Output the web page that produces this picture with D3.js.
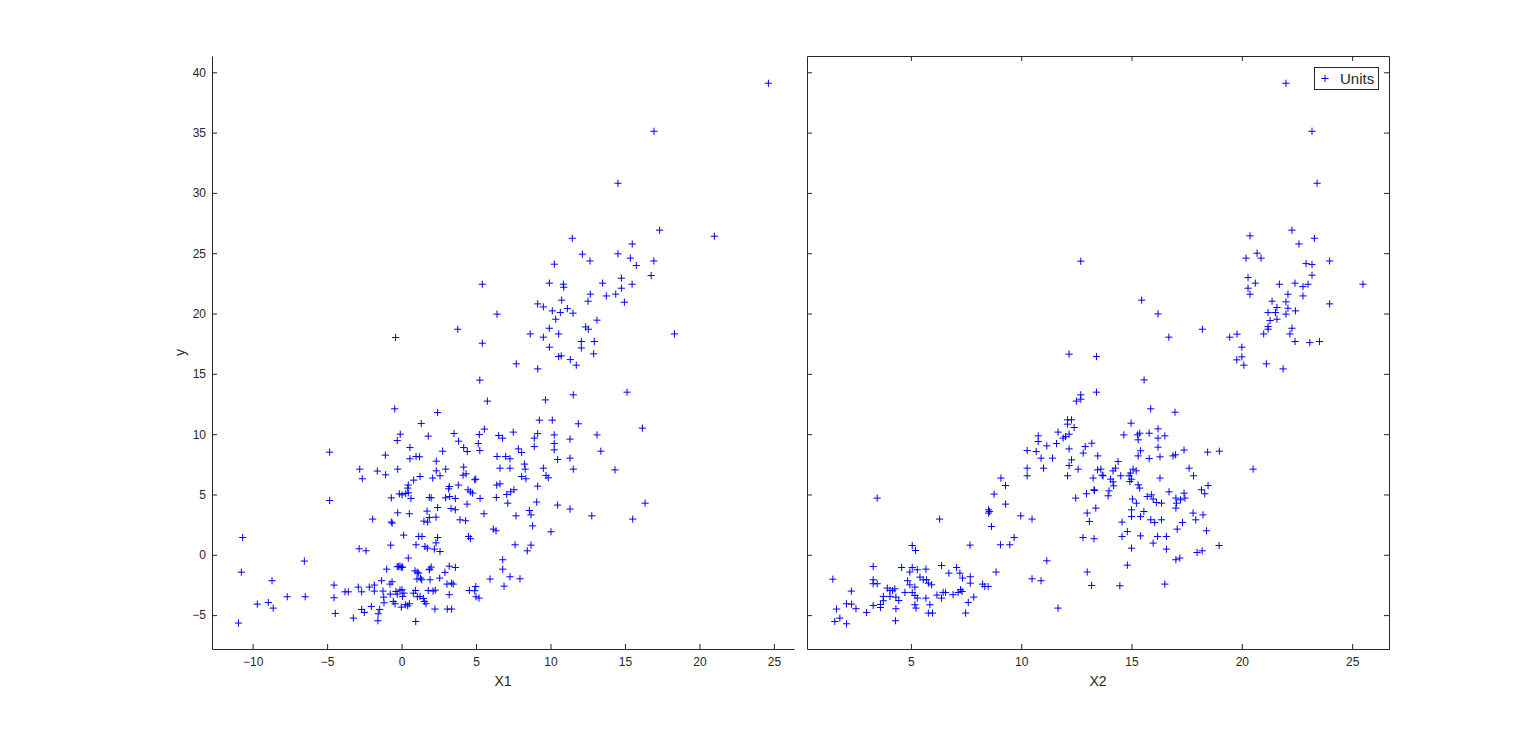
<!DOCTYPE html>
<html><head><meta charset="utf-8">
<script src="https://cdn.jsdelivr.net/npm/d3@7"></script>
<style>body{margin:0;background:#fff}svg{display:block}</style>
</head><body>
<svg id="chart" width="1536" height="744"></svg>
<script>
// ---- data ----
const seriesName = "Units";
const xLabelLeft = "X1";
const xLabelRight = "X2";
const yLabel = "y";
const xTicksLeft = [-10, -5, 0, 5, 10, 15, 20, 25];
const xTicksRight = [5, 10, 15, 20, 25];
const yTicks = [-5, 0, 5, 10, 15, 20, 25, 30, 35, 40];
const xDomainLeft = [-12.73, 26.35];
const xDomainRight = [0.29, 26.67];
const yDomain = [-7.81, 41.35];

// left panel: [X1, y]
const leftPoints = [
[-10.67,1.43],[-10.76,-1.44],[-10.95,-5.66],[-9.69,-4.09],[-8.95,-3.95],[-8.70,-2.15],[-8.62,-4.42],[-7.68,-3.48],[-6.53,-0.52],[-6.47,-3.48],[-4.83,4.5],[-4.54,-2.51],[-4.54,-3.56],[-4.45,-4.86],[-3.80,-3.07],[-3.58,-3.07],[-3.24,-5.25],[-2.85,0.50],[-2.39,0.33],[-2.64,6.30],[-2.91,-2.68],[-2.68,-3.07],[-2.68,-4.53],[-2.50,-4.78],[-2.17,-2.68],[-1.94,2.96],[-2.03,-4.28],[-1.83,-2.51],[-1.83,-3.01],[-1.57,-4.89],[-1.59,-5.47],[-1.47,-4.53],
[-1.34,-2.15],[-1.25,-3.01],[-1.20,-3.51],[-1.18,-3.98],[-1.00,-1.19],[-0.78,-2.43],[-0.76,-3.26],[-0.64,-2.24],[-0.73,0.8],[-0.69,2.71],[-0.63,2.63],[-0.69,4.72],[-0.56,-3.87],[-0.44,-4.06],[-0.38,-3.04],[-0.29,-3.26],[-0.11,-2.93],[-0.29,-0.99],[-0.11,-0.94],[-0.02,-1.05],[-0.26,3.48],[-0.15,5.05],[-0.02,-4.34],[0.03,-2.90],[0.16,-3.18],[0.07,-3.45],[0.25,-4.14],[0.41,-4.23],[0.52,-4.06],[0.79,-3.18],[0.94,-2.96],[1.06,-3.48],[1.24,-3.45],[1.46,-3.62],[1.86,-1.24],[1.91,-2.07],
[0.81,6.19],[1.24,6.49],[0.45,5.78],[0.41,5.53],[0.45,5.14],[0.28,5.08],[0.63,4.67],[0.03,4.97],[1.86,4.75],[1.99,4.72],[3.2,5.66],[3.16,5.47],[3.81,5.78],[2.96,4.72],[3.23,4.83],[3.61,4.67],[4.13,6.6],[4.33,6.71],[4.46,5.39],[4.62,5.22],[4.91,6.22],[4.98,6.27],[4.77,5.11],[5.27,4.67],[6.39,5.78],[6.36,4.75],[4.40,4.20],[3.32,3.84],[3.61,3.73],[2.42,3.92],[1.71,3.62],[1.50,2.79],[1.75,2.71],[1.86,3.09],[2.31,3.12],[0.52,3.40],[3.92,2.90],[4.30,2.82],[5.53,3.40],[6.16,2.13],[6.34,1.99],[4.50,1.52],[4.62,1.33],[2.42,1.43],[2.31,0.99],[1.15,1.52],[1.37,1.52],[0.97,0.83],[1.57,0.69],[1.73,0.55],[2.20,0.47],[2.58,0.27],[0.14,1.63],[0.45,-0.27],[-0.22,-0.97],[0.07,-1.02],[0.90,-1.33],[1.05,-1.44],[1.15,-1.52],[1.28,-1.93],[1.35,-2.07],[1.03,-2.01],[1.89,-1.19],[1.99,-1.02],[2.56,-1.93],[2.91,-1.46],[3.20,-0.94],[3.61,-1.05],[3.05,-2.43],[3.36,-2.35],[3.47,-2.43],[3.20,-3.31],[3.07,-4.50],[3.36,-4.50],[2.24,-4.50],[1.53,-3.87],[1.64,-4.06],[0.95,-5.53],[1.79,-2.96],[2.11,-3.01],[2.26,-2.93],[4.98,-2.63],[4.91,-2.98],[4.55,-2.96],[5.0,-3.48],[5.2,-3.59],[5.94,-2.01],
[5.42,22.43],[6.41,19.95],[-0.40,18.01],[3.77,18.70],[5.42,17.54],[5.25,14.48],[5.76,12.74],[-0.46,12.10],[2.42,11.79],[1.32,10.88],[5.56,10.42],[5.22,9.97],[6.52,9.89],[-0.09,10.00],[-0.29,9.47],[1.79,9.84],[3.52,10.05],[3.83,9.42],[5.15,9.22],[0.56,8.89],[4.17,8.89],[4.41,8.56],[-4.83,8.51],[2.76,8.59],[5.25,8.64],[-1.09,8.26],[0.56,7.96],[0.97,8.15],[1.21,8.12],[6.41,8.15],[2.33,7.76],[-2.81,7.10],[-1.63,6.94],[-0.26,7.10],[2.33,6.96],[2.58,6.55],[2.96,7.10],[4.17,7.27],[-1.07,6.63],[2.09,6.36],
[24.63,39.09],[16.95,35.11],[14.53,30.80],[17.33,26.91],[21.0,26.41],[11.46,26.24],[15.49,25.77],[14.53,24.95],[12.14,24.92],[12.65,24.36],[10.26,24.09],[15.36,24.59],[15.76,23.98],[16.94,24.36],
[16.76,23.15],[14.76,22.93],[14.76,22.10],[15.48,22.43],[13.50,22.52],[9.92,22.52],[10.86,22.43],[10.89,22.18],[12.67,21.61],[12.52,21.02],[13.75,21.46],[14.38,21.61],[14.96,20.94],[9.14,20.80],[9.52,20.55],[10.75,21.11],[11.13,20.41],[10.12,20.22],[10.66,20.08],[11.51,20.03],[10.35,19.53],[13.12,19.45],[18.32,18.31],[9.92,18.78],[12.36,18.89],[12.54,18.70],[8.64,18.31],[9.52,18.04],[10.55,18.31],[12.07,17.68],[12.07,17.15],[12.94,17.68],[12.90,16.66],[9.92,17.21],[10.55,16.43],[10.72,16.49],[11.33,16.18],[11.73,15.72],[7.70,15.83],[9.14,15.41],[15.14,13.48],[11.53,13.26],[9.66,12.84],[9.25,11.16],[10.12,11.16],[11.87,10.86],[16.17,10.50],[7.50,10.17],[6.78,9.67],[9.14,10.05],[8.91,9.67],[10.25,9.94],[11.31,9.59],[13.12,9.94],[10.25,9.22],[8.91,8.97],[10.25,8.70],[13.38,8.59],[7.84,8.78],[8.06,8.48],[6.99,8.15],[7.28,7.96],[10.48,7.90],[11.31,8.01],[6.61,7.18],[7.28,7.18],[8.25,7.52],[8.30,7.10],[9.52,7.18],[11.53,7.10],[14.33,7.04],[8.06,6.49],[8.35,6.30],[9.70,6.57],[9.85,6.38],
[6.61,5.88],[7.06,5.0],[7.33,5.22],[7.55,5.39],[7.13,4.28],[9.14,5.69],[9.07,4.37],[10.48,4.12],[11.31,3.79],[12.77,3.23],[16.35,4.28],[15.52,2.96],[8.58,3.67],[8.69,3.31],[7.68,3.23],[8.80,2.40],[10.03,1.91],[7.62,0.83],[8.69,0.80],[8.44,0.33],[6.79,-0.41],[6.79,-1.19],[7.28,-1.82],[7.95,-1.99],[6.88,-2.60]
];

// right panel: [X2, y]
const rightPoints = [
[12.70,24.34],[22.00,39.09],[23.18,35.11],[23.41,30.80],[20.37,26.44],[22.27,26.91],[22.59,25.77],[23.29,26.24],[20.19,24.59],[20.69,25.0],[20.87,24.59],[22.91,24.14],[23.18,24.06],[23.98,24.36],
[23.18,23.18],[20.28,22.98],[20.28,22.10],[20.61,22.52],[21.70,22.43],[22.41,22.52],[22.77,22.23],[23.0,22.43],[22.77,21.46],[25.49,22.43],[20.37,21.60],[22.09,21.60],[21.37,21.02],[22.0,20.97],[21.59,20.50],[22.09,20.44],[23.98,20.80],[21.19,20.08],[21.52,20.08],[22.43,20.22],[22.0,19.95],[21.59,19.53],[21.28,19.42],[21.19,18.92],[21.19,18.70],[22.27,18.78],[20.99,18.31],[22.18,18.31],[15.46,21.11],[16.20,19.97],[18.21,18.70],[19.45,18.04],[19.78,18.29],[16.69,18.04],[20.0,17.21],[20.0,16.41],[19.77,16.16],[20.09,15.72],[21.11,15.83],[21.87,15.41],[22.41,17.68],[23.08,17.59],[23.52,17.68],[13.41,16.43],[15.57,14.50],[13.41,13.48],[15.87,12.10],[16.97,11.82],[14.98,10.91],[14.65,9.94],[15.27,9.94],[15.37,10.08],[15.80,10.08],[16.20,10.44],[16.20,9.67],[16.51,9.86],[15.30,9.53],[13.20,9.25],[16.20,8.92],[15.41,8.62],[15.30,8.20],[15.80,7.98],[16.29,8.12],[16.88,8.20],[16.99,8.29],[17.38,8.68],[18.45,8.51],[18.98,8.59],[13.47,8.20],[20.51,7.10],[17.61,7.18],[17.81,6.55],[14.39,7.73],[14.27,7.18],[14.16,6.96],[13.61,7.10],[13.67,6.60],[15.07,7.10],[15.21,6.96],[14.95,6.77],[14.51,6.55],[14.89,6.55],[16.29,6.36],
[12.17,16.63],[12.70,13.26],[12.70,12.90],[12.50,12.74],[12.10,11.19],[12.28,11.19],[12.10,10.83],[12.40,10.55],[11.67,10.17],[12.17,10.0],[12.01,9.80],[11.90,9.67],[10.77,9.86],[10.77,9.39],[11.16,9.03],[11.60,9.22],[12.17,8.78],[12.90,8.97],[12.81,8.43],[10.27,8.64],[10.68,8.56],[10.90,8.01],[11.42,8.01],[12.28,7.87],[12.17,7.40],[10.27,7.18],[11.01,7.18],[12.58,7.10],[10.27,6.55],[9.08,6.36],[12.10,6.55],[13.26,6.36],[13.46,7.04],
[9.29,5.74],[8.77,5.03],[9.29,4.20],[8.52,3.73],[8.52,3.46],[8.56,3.59],[8.65,2.35],[9.68,1.43],[9.98,3.23],[10.49,2.96],[9.06,0.83],[9.48,0.83],[7.68,0.80],[6.30,2.96],[3.47,4.70],[5.06,0.77],[5.21,0.36],[11.16,-0.50],[8.86,-1.43],[10.49,-1.99],[10.90,-2.15],[11.67,-4.42],[12.47,4.70],[12.96,5.06],[13.30,5.39],[13.38,3.87],[12.99,3.46],[13.09,2.76],[12.80,1.43],[13.30,1.33],[12.99,-1.43],[13.19,-2.54],
[1.46,-2.02],[1.63,-4.50],[1.55,-5.53],[1.78,-5.25],[2.08,-5.72],[2.08,-4.06],[2.31,-4.09],[2.51,-4.47],[2.30,-3.01],[2.99,-4.78],[3.29,-0.97],[3.29,-2.07],[3.29,-2.40],[3.47,-2.40],[3.29,-4.20],[3.62,-4.12],[3.62,-4.37],[3.75,-3.45],[3.75,-3.81],[3.93,-2.76],[4.05,-2.96],[4.05,-3.45],[4.17,-2.98],[4.27,-2.82],[4.32,-3.51],[4.45,-3.79],[4.32,-4.47],[4.30,-5.47],[4.58,-1.05],[4.73,-3.12],[4.85,-2.15],[4.95,-1.43],[5.06,-1.05],[4.95,-2.49],[5.06,-3.12],[5.18,-2.68],[5.18,-3.37],[5.18,-4.14],[5.23,-4.42],[5.29,-3.59],[5.29,-1.24],[5.41,-1.85],[5.56,-2.07],[5.68,-1.19],[5.71,-2.07],[5.79,-2.35],[5.68,-3.59],[5.86,-4.14],[5.79,-4.83],[5.98,-4.83],[5.94,-2.49],[6.18,-3.34],[6.39,-3.59],[6.39,-0.89],[6.46,-3.12],[6.72,-1.52],[6.57,-3.12],[6.91,-3.31],[7.07,-1.05],[7.14,-3.12],[7.25,-2.90],[7.32,-3.04],[7.22,-1.52],[7.34,-1.93],[7.48,-4.83],[7.60,-3.95],[7.69,-2.35],[7.69,-1.82],[7.85,-3.51],[8.25,-2.43],[8.35,-2.63],[8.50,-2.63],
[13.32,5.33],[13.71,6.55],[14.05,6.27],[14.16,6.05],[14.19,5.72],[13.98,5.30],[13.94,4.89],[15.0,6.27],[15.30,5.80],[15.37,5.53],[14.92,6.07],
[15.04,4.62],[15.22,4.28],[15.0,3.73],[15.0,3.17],[15.41,3.17],[15.56,3.59],[15.71,4.83],[15.90,4.97],[15.98,4.62],[16.13,4.34],[16.36,4.28],[16.70,5.22],[17.01,4.70],[17.04,4.28],[17.22,4.56],[17.38,5.11],[17.42,4.70],[17.01,3.87],[17.07,2.13],[17.31,2.68],[17.79,3.46],[17.91,2.90],[18.24,3.31],[18.40,1.99],[18.17,5.39],[18.32,5.06],[18.47,5.74],[15.87,2.90],[16.05,2.68],[16.36,2.90],[14.57,2.71],[14.81,1.93],[14.57,1.52],[15.41,1.57],[15.98,0.97],[16.18,1.52],[16.58,1.52],[15.0,0.55],[16.58,0.47],[14.81,-0.86],[17.01,-0.41],[17.19,-0.27],[17.97,0.19],[18.20,0.33],[18.97,0.77],[14.47,-2.57],[16.51,-2.43]
];

// ---- drawing ----
const svg = d3.select("#chart");
const axisColor = "#262626";
const markerColor = "#0000ff";
const font = "'Liberation Sans', Arial, Helvetica, sans-serif";
const plotTop = 56, plotBottom = 649;
const leftPanel = {x0: 212, x1: 794};
const rightPanel = {x0: 807, x1: 1389};
const ARM = 3.6;

const yScale = d3.scaleLinear().domain(yDomain).range([plotBottom, plotTop]);
const xLeft = d3.scaleLinear().domain(xDomainLeft).range([leftPanel.x0, leftPanel.x1]);
const xRight = d3.scaleLinear().domain(xDomainRight).range([rightPanel.x0, rightPanel.x1]);

function styleAxis(g, showText) {
  g.select(".domain").attr("stroke", axisColor).attr("stroke-width", 1);
  g.selectAll(".tick line").attr("stroke", axisColor).attr("stroke-width", 1);
  g.selectAll(".tick text").attr("fill", axisColor).style("font-family", font).style("font-size", "12px");
  if (!showText) g.selectAll(".tick text").remove();
}

function plus(x, y) {
  return `M${x - ARM},${y}H${x + ARM}M${x},${y - ARM}V${y + ARM}`;
}

// Left panel (box off)
const gl = svg.append("g");
gl.append("g").attr("transform", `translate(0,${plotBottom})`)
  .call(d3.axisBottom(xLeft).tickValues(xTicksLeft).tickSizeInner(-5).tickSizeOuter(0).tickPadding(8).tickFormat(d3.format("d")))
  .call(g => styleAxis(g, true));
gl.append("g").attr("transform", `translate(${leftPanel.x0},0)`)
  .call(d3.axisLeft(yScale).tickValues(yTicks).tickSizeInner(-5).tickSizeOuter(0).tickPadding(6).tickFormat(d3.format("d")))
  .call(g => styleAxis(g, true));
gl.append("path")
  .attr("d", leftPoints.map(p => plus(xLeft(p[0]), yScale(p[1]))).join(""))
  .attr("fill", "none").attr("stroke", markerColor).attr("stroke-width", 1);

gl.append("text").attr("x", (leftPanel.x0 + leftPanel.x1) / 2).attr("y", 686)
  .attr("text-anchor", "middle").attr("fill", axisColor)
  .style("font-family", font).style("font-size", "14px").text(xLabelLeft);
gl.append("text").attr("transform", `translate(185,${(plotTop + plotBottom) / 2}) rotate(-90)`)
  .attr("text-anchor", "middle").attr("fill", axisColor)
  .style("font-family", font).style("font-size", "14px").text(yLabel);

// Right panel (box on)
const gr = svg.append("g");
gr.append("g").attr("transform", `translate(0,${plotBottom})`)
  .call(d3.axisBottom(xRight).tickValues(xTicksRight).tickSizeInner(-5).tickSizeOuter(0).tickPadding(8).tickFormat(d3.format("d")))
  .call(g => styleAxis(g, true));
gr.append("g").attr("transform", `translate(0,${plotTop})`)
  .call(d3.axisTop(xRight).tickValues(xTicksRight).tickSizeInner(-5).tickSizeOuter(0))
  .call(g => styleAxis(g, false));
gr.append("g").attr("transform", `translate(${rightPanel.x0},0)`)
  .call(d3.axisLeft(yScale).tickValues(yTicks).tickSizeInner(-5).tickSizeOuter(0))
  .call(g => styleAxis(g, false));
gr.append("g").attr("transform", `translate(${rightPanel.x1},0)`)
  .call(d3.axisRight(yScale).tickValues(yTicks).tickSizeInner(-5).tickSizeOuter(0))
  .call(g => styleAxis(g, false));
gr.append("path")
  .attr("d", rightPoints.map(p => plus(xRight(p[0]), yScale(p[1]))).join(""))
  .attr("fill", "none").attr("stroke", markerColor).attr("stroke-width", 1);

gr.append("text").attr("x", (rightPanel.x0 + rightPanel.x1) / 2).attr("y", 686)
  .attr("text-anchor", "middle").attr("fill", axisColor)
  .style("font-family", font).style("font-size", "14px").text(xLabelRight);

// Legend
const lg = svg.append("g");
lg.append("rect").attr("x", 1314.5).attr("y", 67.5).attr("width", 64).attr("height", 22)
  .attr("fill", "#fff").attr("stroke", axisColor).attr("stroke-width", 1);
lg.append("path").attr("d", plus(1325, 78.5)).attr("stroke", markerColor).attr("fill", "none");
lg.append("text").attr("x", 1340).attr("y", 84).attr("fill", axisColor)
  .style("font-family", font).style("font-size", "15px").text(seriesName);
</script>
</body></html>
